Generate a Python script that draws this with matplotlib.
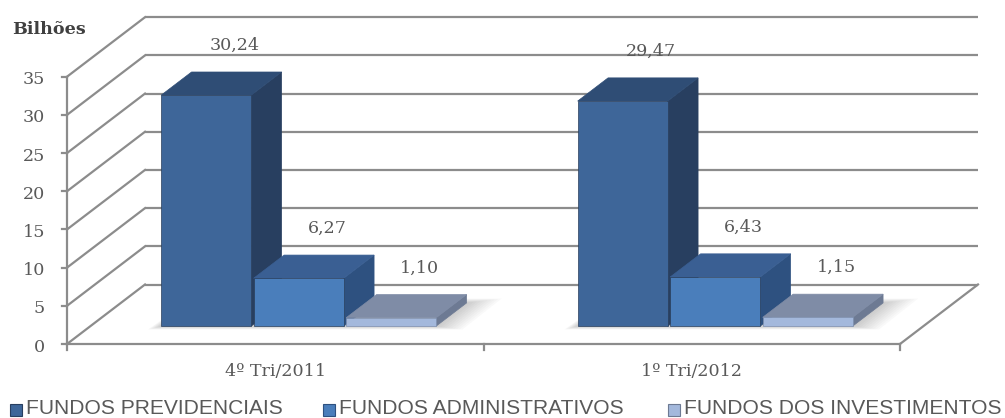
import matplotlib
matplotlib.use("Agg")
import matplotlib.pyplot as plt
from matplotlib.patches import Polygon, Rectangle

# ---- data ----
categories = ["4º Tri/2011", "1º Tri/2012"]
series_names = ["FUNDOS PREVIDENCIAIS", "FUNDOS ADMINISTRATIVOS", "FUNDOS DOS INVESTIMENTOS"]
prev = [30.24, 29.47]
adm = [6.27, 6.43]
inv = [1.10, 1.15]
value_labels = [["30,24", "29,47"], ["6,27", "6,43"], ["1,10", "1,15"]]
yticks = [0, 5, 10, 15, 20, 25, 30, 35]
ymax = 35

series = [prev, adm, inv]
front_col = ["#3e6699", "#4a7ebb", "#a3b8dc"]
side_col = ["#283f60", "#2e5180", "#6d7a93"]
top_col = ["#2f4d75", "#3a5f93", "#7f8ca6"]
grid_col = "#8c8c8c"
txt_col = "#595959"

W, H = 1005, 418
fig = plt.figure(figsize=(W / 100, H / 100), dpi=100)
ax = fig.add_axes([0, 0, 1, 1])
ax.set_axis_off()

# scales (pixels per data unit)
sx = (900 - 67) / 2.0
sy = (344 - 76.7) / 35.0
ax.set_xlim(-67 / sx, (W - 67) / sx)
ax.set_ylim(-74 / sy, (H - 74) / sy)
px = 1 / sx
py = 1 / sy

DX = 78 * px   # depth offset of back wall
DY = 59.5 * py
f0, f1 = 0.30, 0.69  # bar depth range (fraction of full depth)
ncat = len(categories)

lw = 1.6
# back wall gridlines + left wall diagonals
for t in yticks:
    ax.plot([DX, ncat + DX], [t + DY, t + DY], color=grid_col, lw=lw, zorder=1,
            solid_capstyle="butt")
    ax.plot([0, DX], [t, t + DY], color=grid_col, lw=lw, zorder=1)
    ax.plot([-5 * px, 0], [t, t], color=grid_col, lw=lw, zorder=1)
    ax.text(-22 * px, t - 3 * py, str(t), ha="right", va="center",
            fontsize=12.6, family="DejaVu Serif", color=txt_col)
# front vertical axis
ax.plot([0, 0], [0, ymax], color=grid_col, lw=lw, zorder=1)
# floor
ax.plot([0, ncat], [0, 0], color=grid_col, lw=lw, zorder=1)
ax.plot([ncat, ncat + DX], [0, DY], color=grid_col, lw=lw, zorder=1)
for k in range(ncat + 1):
    ax.plot([k, k], [0, -6 * py], color=grid_col, lw=lw, zorder=1)

# bars
step = 92.5 * px
bw = 90 * px
ddx = (f1 - f0) * DX
ddy = (f1 - f0) * DY
for i in range(ncat):
    c = i + 0.5
    # soft floor shadow (blurred footprint of the group)
    gl = c - step - bw / 2 + f0 * DX
    gr = c + step + bw / 2 + f0 * DX
    yb = f0 * DY
    for k in range(10):
        g = (k + 1) * 2.2
        ax.add_patch(Polygon([(gl - g * 0.6 * px, yb - g * 0.15 * py),
                              (gr + g * 1.2 * px, yb - g * 0.15 * py),
                              (gr + ddx + g * 1.6 * px, yb + ddy + g * 0.2 * py),
                              (gl + ddx, yb + ddy + g * 0.2 * py)],
                             closed=True, facecolor="#444444", edgecolor="none",
                             alpha=0.028, zorder=2, antialiased=True))
    for j, vals in enumerate(series):
        v = vals[i]
        xc = c + (j - 1) * step
        xl = xc - bw / 2 + f0 * DX
        xr = xc + bw / 2 + f0 * DX
        z = 3 + j * 0.1
        ax.bar(xl, v, width=bw, bottom=yb, align="edge", color=front_col[j],
               edgecolor="#2a3f5c" if j < 2 else "#7d8fae", linewidth=0.5, zorder=z + 0.02)
        ax.add_patch(Polygon([(xr, yb), (xr + ddx, yb + ddy), (xr + ddx, yb + ddy + v), (xr, yb + v)],
                             closed=True, facecolor=side_col[j], edgecolor=side_col[j],
                             linewidth=0.5, zorder=z))
        ax.add_patch(Polygon([(xl, yb + v), (xr, yb + v), (xr + ddx, yb + ddy + v), (xl + ddx, yb + ddy + v)],
                             closed=True, facecolor=top_col[j], edgecolor=top_col[j],
                             linewidth=0.5, zorder=z + 0.01))
        ax.annotate(value_labels[j][i], xy=(xc + f1 * DX, v + f1 * DY),
                    xytext=(-2 * 0.72, 26.5 * 0.72), textcoords="offset points",
                    ha="center", va="center", fontsize=12.6, family="DejaVu Serif",
                    color=txt_col, zorder=6)
    ax.text(c, -28 * py, categories[i], ha="center", va="center", fontsize=12.6,
            family="DejaVu Serif", color=txt_col)

fig.text(12 / W, 1 - 30 / H, "Bilhões", ha="left", va="center", fontsize=12.6,
         family="DejaVu Serif", fontweight="bold", color="#404040")

# legend
leg_x = [10, 323, 668]
for j, name in enumerate(series_names):
    fig.patches.append(Rectangle((leg_x[j] / W, 1 - 416 / H), 12 / W, 12 / H,
                                 transform=fig.transFigure, facecolor=front_col[j],
                                 edgecolor=side_col[j], linewidth=0.8))
    fig.text((leg_x[j] + 16) / W, 1 - 409 / H, name, ha="left", va="center",
             fontsize=15.1, family="Liberation Sans", color=txt_col)

fig.savefig("out.png", dpi=100)
